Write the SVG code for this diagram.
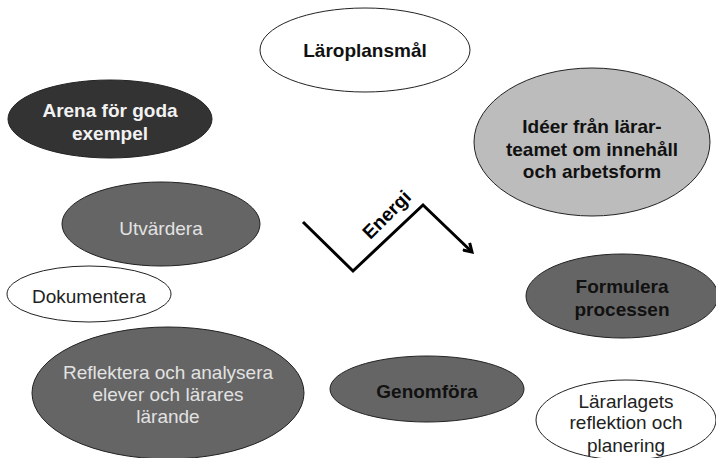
<svg xmlns="http://www.w3.org/2000/svg" width="716" height="458" viewBox="0 0 716 458">
<style>
.e{stroke:#222;stroke-width:1}
.w{fill:#fff}
.d{fill:#656565}
.k{fill:#333}
.g{fill:#bcbcbc}
text{font-family:"Liberation Sans",Arial,sans-serif;font-size:19px;text-anchor:middle}
.b{font-weight:bold}
.tb{fill:#111}
.tl{fill:#e2e2e2}
.tw{fill:#f2f2f2}
</style>
<defs>
<marker id="ah" markerWidth="12" markerHeight="12" refX="9" refY="6" orient="auto" markerUnits="userSpaceOnUse">
<path d="M1,1 L9,6 L1,11" fill="none" stroke="#000" stroke-width="3"/>
</marker>
</defs>
<g id="n-laroplansmal"><ellipse class="e w" cx="365" cy="50" rx="105" ry="42"/><text class="b tb" x="365" y="57">Läroplansmål</text></g>
<g id="n-arena"><ellipse class="e k" cx="110" cy="119" rx="102" ry="39"/><text class="b tw" x="110" y="117">Arena för goda</text><text class="b tw" x="110" y="140">exempel</text></g>
<g id="n-ideer"><ellipse class="e g" cx="592" cy="142" rx="118" ry="74"/><text class="b tb" x="592" y="133" font-size="18">Idéer från lärar-</text><text class="b tb" x="592" y="156" font-size="18">teamet om innehåll</text><text class="b tb" x="592" y="178" font-size="18">och arbetsform</text></g>
<g id="n-utvardera"><ellipse class="e d" cx="161" cy="224" rx="99" ry="42"/><text class="tl" x="161" y="235">Utvärdera</text></g>
<g id="n-dokumentera"><ellipse class="e w" cx="89" cy="294" rx="82" ry="28"/><text x="89" y="303" fill="#222">Dokumentera</text></g>
<g id="n-reflektera"><ellipse class="e d" cx="168" cy="393" rx="136" ry="66"/><text class="tl" x="168" y="379">Reflektera och analysera</text><text class="tl" x="168" y="401">elever och lärares</text><text class="tl" x="168" y="423">lärande</text></g>
<g id="n-formulera"><ellipse class="e d" cx="622" cy="296" rx="96" ry="42"/><text class="b tb" x="622" y="293">Formulera</text><text class="b tb" x="622" y="316">processen</text></g>
<g id="n-genomfora"><ellipse class="e d" cx="427" cy="389" rx="97" ry="33"/><text class="b tb" x="427" y="398">Genomföra</text></g>
<g id="n-lararlagets"><ellipse class="e w" cx="626" cy="420" rx="90" ry="40"/><text x="626" y="408" fill="#222">Lärarlagets</text><text x="626" y="429" fill="#222">reflektion och</text><text x="626" y="452" fill="#222">planering</text></g>
<g id="connectors">
<polyline points="303,222 353,271 423,205 472,252" fill="none" stroke="#000" stroke-width="3" marker-end="url(#ah)"/>
<text class="b" x="387" y="221" font-size="17" fill="#000" transform="rotate(-45 387 215)">Energi</text>
</g>
</svg>
